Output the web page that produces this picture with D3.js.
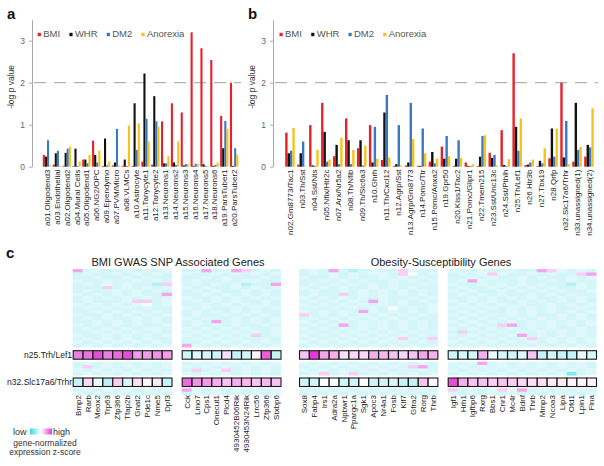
<!DOCTYPE html>
<html><head><meta charset="utf-8">
<script src="https://cdn.jsdelivr.net/npm/d3@7"></script>
<style>body{margin:0;background:#fff}svg text{font-family:Arial,"Liberation Sans",sans-serif}</style>
</head><body><svg id="chart" width="604" height="466"></svg>
<script>
// ---------- data: bar panels ----------
const seriesNames = ["BMI","WHR","DM2","Anorexia"];
const seriesColors = ["#e8202a","#111111","#3a78c2","#f7c21b"];
const yTicks = [0,1,2,3];
const threshold = 2;

const catsA = ["a01.Oligodend3","a03.Endothelial","a02.Oligodend2","a04.Mural Cells","a05.Oligodend1","a06.NG2/OPC","a09.Ependymo","a07.PVM/Micro","a08.VLMCs","a10.Astrocyte","a11.Tanycyte1","a12.Tanycyte2","a13.Neurons1","a14.Neurons2","a15.Neurons3","a16.Neurons4","a17.Neurons5","a18.Neurons6","a19.ParsTuber1","a20.ParsTuber2"];
const bmiA = [0.28,0.05,0.02,0.02,0.17,0.62,0.02,0.03,0.02,0.02,0.12,0.05,1.08,1.51,1.29,3.2,2.82,2.54,1.21,2.0];
const whrA = [0.24,0.32,0.33,0.43,0.17,0.28,0.67,0.1,0.17,1.51,2.22,1.68,0.08,0.1,0.03,0.02,0.06,0.02,0.44,0.02];
const dm2A = [0.63,0.38,0.43,0.02,0.08,0.1,0.03,0.9,0.02,0.4,1.14,1.08,0.08,0.04,0.06,0.07,0.02,0.04,1.09,0.44];
const anoA = [0.03,0.02,0.48,0.12,0.28,0.38,0.12,0.03,0.98,1.03,0.6,0.95,0.25,0.6,0.06,0.06,0.02,0.1,0.9,0.29];

const catsB = ["n02.Gm8773/Tac1","n03.Th/Sst","n04.Sst/Nts","n05.Nfix/Htr2c","n07.Arx/Nr5a2","n08.Th/Nfib","n09.Th/Slc6a3","n10.Ghrh","n11.Th/Cxcl12","n12.Agrp/Sst","n13.Agrp/Gm8773","n14.Pomc/Ttr","n15.Pomc/Anxa2","n19.Gpr50","n20.Kiss1/Tac2","n21.Pomc/Glipr1","n22.Tmem215","n23.Sst/Unc13c","n24.Sst/Pthlh","n25.Th/Lef1","n26.Htr3b","n27.Tbx19","n28.Qrfp","n32.Slc17a6/Trhr","n33.unassigned(1)","n34.unassigned(2)"];
const bmiB = [0.81,0.05,0.99,1.52,0.25,1.15,0.44,0.99,0.16,0.02,0.03,0.02,0.12,0.48,0.02,0.1,0.02,0.33,0.87,2.7,0.04,0.02,0.2,2.0,0.12,0.24];
const whrB = [0.32,0.32,0.03,0.83,0.52,0.63,0.63,0.1,1.29,0.06,0.1,0.02,0.35,0.19,0.19,0.02,0.24,0.21,0.04,0.95,0.05,0.14,0.91,0.22,1.52,0.52];
const dm2B = [0.38,0.6,0.02,0.12,0.06,0.06,0.03,0.95,1.71,0.99,1.52,0.91,0.08,0.73,0.63,0.02,0.73,0.28,0.02,0.38,0.1,0.08,0.24,1.09,0.4,0.46];
const anoB = [0.92,0.02,0.4,0.17,0.69,0.4,0.5,0.19,0.22,0.03,0.66,0.32,0.19,0.25,0.21,0.06,0.75,0.03,0.18,1.15,0.17,0.44,0.91,0.06,0.47,1.39];

// ---------- data: heatmap ----------
const genesBMI1 = ["Bmp2","Rarb","Meox2","Trp63","Zfp366","Tfap2b","Gnat2","Pde1c","Nme5","Dpf3"];
const genesBMI2 = ["Cck","Lmo7","Cps1","Onecut1","Plcd4","4930452B06Rik","4930453N24Rik","Lrrc56","Zfp366","Stxbp6"];
const genesObe1 = ["Sox8","Fabp4","Irs1","Adra2a","Npbwr1","Ppargc1a","Sgk1","Apoc3","Nr4a1","Fosb","Klf7","Gfra2","Rorg","Thrb"];
const genesObe2 = ["Igf1","Hrh1","Igfbp6","Rxrg","Bbs1","Cnr1","Mc4r","Bdnf","Thrb","Mmp2","Ncoa3","Lipa","Ofd1","Lpin1","Flna"];
const groupTitles = ["BMI GWAS SNP Associated Genes","Obesity-Susceptibility Genes"];
const boxedLabels = ["n25.Trh/Lef1","n32.Slc17a6/Trhr"];
const n25Z = [1.3,1.4,1.8,1.3,1.5,1.8,1.0,1.0,1.1,1.0,
  -0.5,-0.3,-0.4,-0.5,0.3,-0.6,-0.4,0.1,1.6,-0.6,
  0.6,2.0,0.9,0.8,0.3,0.4,0.4,0.8,0.7,0.6,0.4,0.6,0.9,0.8,
  -0.5,-0.4,-0.4,0.8,-0.2,-0.4,-0.5,-0.3,0.6,-0.6,-0.4,-0.6,-0.6,-0.2,-0.4];
const n32Z = [-0.6,0.4,-0.2,-0.7,0.5,-0.4,0.3,0.1,0.2,-0.6,
  1.5,1.1,1.0,0.8,0.6,0.8,0.7,0.6,0.7,0.6,
  -0.5,-0.5,0.0,0.0,-0.5,-0.5,0.0,-0.5,-0.5,-0.4,-0.6,-0.6,0.6,0.1,
  1.8,0.8,0.6,0.6,0.5,0.6,0.5,0.4,0.3,0.3,0.2,0.2,0.1,0.1,0.1];
// other clusters: one digit per gene (level code), blocks separated by "|"
const levelZ = {"0":-2,"1":-1.2,"2":-0.75,"3":-0.45,"4":-0.32,"5":-0.05,"6":0.5,"7":0.9,"8":1.4,"9":2.0};
const rowsTop = [
"7343343434|3473476343|34373234336433|433433433764343",
"3433434343|4334343434|34343434436534|343464334343367",
"3343343433|3343433343|43343433434343|334343343433434",
"4334334343|3433434433|33434343343434|347433343343433",
"3434343326|3434342337|34343434343343|433434343433243",
"3336343434|4343343434|43434334343433|343343434343343",
"3433434343|3434334343|34334343434343|434334343434334",
"4343434337|3343434343|34336343434343|343434334343433",
"3434343434|4334343434|43434343433434|334343434334343",
"3433346634|3434343343|34343437434343|434343343434343",
"4343434534|3343434343|43434343434334|343434343343434",
"3434343433|4343343434|34343434353434|434343434343343",
"3343434343|3434343433|43434374343434|343433434343434",
"4334343434|3433434343|63434343434343|434343434334343",
"3434334343|4343343434|34343434343433|343434343434343",
"3343434343|3437343434|43434343434343|434343434343434",
"4343434334|3434343343|34347343434343|343436734343434",
"3434343443|4343434334|43434343434343|434343434343343",
"3343434343|3434343434|34343434343434|363434343434343",
"4334343434|4343434634|43434343434343|434343473434343",
"3434343433|3434343343|34343434346436|343434346343434",
"4343434343|3343434343|43434343434343|434343434343434",
"3434343434|7434343434|34343434343434|343434343434343"];
const rowsMid = [
"3434343434|3434343434|43434343434343|434734343434343",
"3634343434|4343434343|34343434343673|343434343434343",
"4343434343|3634634343|43434343434343|434343434343434",
"3434343434|4343434343|34634634343434|343434343434134"];
const rowsBot = [
"3434343434|7434343434|43434343434343|634346473434343",
"4343434343|3434343434|34343434343434|434343434343434"];

// ---------- drawing ----------
const svg = d3.select("#chart");
const FONT = 'Arial,"Liberation Sans",sans-serif';
const y = d3.scaleLinear().domain([0,3.5]).range([166.7,19.7]);

function barPanel(cats, series, o){
  const x = d3.scaleBand().domain(cats).range(o.range).paddingInner(o.pi).paddingOuter(o.pi/2);
  const xs = d3.scaleBand().domain(seriesNames).range([0, x.bandwidth()]);
  const g = svg.append("g");
  g.append("line").attr("x1", o.axisX+2).attr("x2", o.dashEnd)
    .attr("y1", y(threshold)).attr("y2", y(threshold))
    .attr("stroke","#a0a0a0").attr("stroke-width",1).attr("stroke-dasharray","12,8");
  seriesNames.forEach((s, si) => {
    g.selectAll(null).data(cats).join("rect")
      .attr("x", c => x(c) + xs(s)).attr("width", xs.bandwidth())
      .attr("y", (c,i) => y(series[si][i])).attr("height", (c,i) => y(0) - y(series[si][i]))
      .attr("fill", seriesColors[si]);
  });
  const ag = g.append("g").attr("transform", `translate(${o.axisX},0)`)
    .call(d3.axisLeft(y).tickValues(yTicks).tickSize(3).tickSizeOuter(0).tickPadding(4).tickFormat(d3.format("d")));
  ag.attr("font-family", FONT).attr("font-size", 8.5);
  ag.select(".domain").attr("stroke","#aaa");
  ag.selectAll(".tick line").attr("stroke","#aaa");
  ag.selectAll(".tick text").attr("fill","#666");
  g.append("text").attr("transform", `translate(${o.axisX-18},${y(1.9)}) rotate(-90)`)
    .attr("text-anchor","middle").attr("font-size",8.5).attr("fill","#333").text("-log p value");
  g.selectAll(null).data(cats).join("text")
    .attr("transform", c => `translate(${x(c) + x.bandwidth()/2 + 3},${y(0)+2.8}) rotate(-90)`)
    .attr("text-anchor","end").attr("font-size",8).attr("fill","#222").text(c => c);
  const offs = [0, 31.7, 69, 103.7];
  seriesNames.forEach((s, si) => {
    g.append("rect").attr("x", o.legX + offs[si]).attr("y", 32.8).attr("width",3.2).attr("height",3.4).attr("fill", seriesColors[si]);
    g.append("text").attr("x", o.legX + offs[si] + 5.5).attr("y", 37).attr("font-size",9.5).attr("fill","#555").text(s);
  });
  g.append("text").attr("x", o.labX).attr("y", 19).attr("font-size",15).attr("font-weight","bold").attr("fill","#111").text(o.label);
}

barPanel(catsA, [bmiA, whrA, dm2A, anoA], {range:[42.07,239.07], pi:0.15, axisX:32, dashEnd:241, legX:37.7, labX:7, label:"a"});
barPanel(catsB, [bmiB, whrB, dm2B, anoB], {range:[284.0,594.96], pi:0.2, axisX:273, dashEnd:598, legX:279.5, labX:248, label:"b"});

// heatmap
const allGenes = [...genesBMI1, ...genesBMI2, ...genesObe1, ...genesObe2];
const blocks = [{genes:genesBMI1, x0:72.7},{genes:genesBMI2, x0:181.7},{genes:genesObe1, x0:299},{genes:genesObe2, x0:447.7}];
const colW = 9.9, thinH = 3.4, boxH = 8.5;
const color = d3.scaleLinear().domain([-2,0,2]).range(["#3ad6e6","#ffffff","#e23ad2"]).clamp(true);
const hg = svg.append("g");

function parseRow(str){ return str.replace(/\|/g,"").split("").map(ch => levelZ[ch]); }
function colX(gi){
  let k = gi;
  for (const b of blocks){ if (k < b.genes.length) return b.x0 + k*colW; k -= b.genes.length; }
}
function thinRows(rows, y0){
  rows.forEach((r, ri) => {
    const vals = parseRow(r);
    hg.selectAll(null).data(vals).join("rect")
      .attr("x", (v,i) => colX(i)).attr("y", y0 + ri*thinH)
      .attr("width", colW + 0.3).attr("height", thinH + 0.3).attr("fill", v => color(v));
  });
}
thinRows(rowsTop, 269);
thinRows(rowsMid, 361.7);
thinRows(rowsBot, 388.3);

function boxRow(vals, y0, label){
  hg.selectAll(null).data(vals).join("rect")
    .attr("x", (v,i) => colX(i) + 0.5).attr("y", y0).attr("width", colW - 0.2).attr("height", boxH)
    .attr("fill", v => color(v)).attr("stroke","#1a1a1a").attr("stroke-width",1.1);
  hg.append("text").attr("x", 72).attr("y", y0 + boxH/2 + 3).attr("text-anchor","end")
    .attr("font-size",8.5).attr("fill","#222").text(label);
}
boxRow(n25Z, 350.7, boxedLabels[0]);
boxRow(n32Z, 378, boxedLabels[1]);

// gene labels
hg.selectAll(null).data(allGenes).join("text")
  .attr("transform", (gname,i) => `translate(${colX(i) + colW/2 + 3},395) rotate(-90)`)
  .attr("text-anchor","end").attr("font-size",8).attr("fill","#222").text(d => d);

// group titles
hg.append("text").attr("x", 178).attr("y", 266).attr("text-anchor","middle").attr("font-size",11).attr("fill","#222").text(groupTitles[0]);
hg.append("text").attr("x", 441).attr("y", 266).attr("text-anchor","middle").attr("font-size",11).attr("fill","#222").text(groupTitles[1]);
hg.append("text").attr("x", 6).attr("y", 258).attr("font-size",15).attr("font-weight","bold").attr("fill","#111").text("c");

// legend
const defs = svg.append("defs");
const lg = defs.append("linearGradient").attr("id","lg");
[[0,-2],[0.5,0],[1,2]].forEach(([o,v]) => lg.append("stop").attr("offset", o).attr("stop-color", color(v)));
hg.append("rect").attr("x",30).attr("y",428.5).attr("width",22).attr("height",6).attr("fill","url(#lg)");
hg.append("text").attr("x",13).attr("y",434.5).attr("font-size",9).attr("fill","#333").text("low");
hg.append("text").attr("x",53).attr("y",434.5).attr("font-size",9).attr("fill","#333").text("high");
hg.append("text").attr("x",45).attr("y",445.5).attr("text-anchor","middle").attr("font-size",8.5).attr("fill","#333").text("gene-normalized");
hg.append("text").attr("x",45).attr("y",454.5).attr("text-anchor","middle").attr("font-size",8.5).attr("fill","#333").text("expression z-score");
</script></body></html>
